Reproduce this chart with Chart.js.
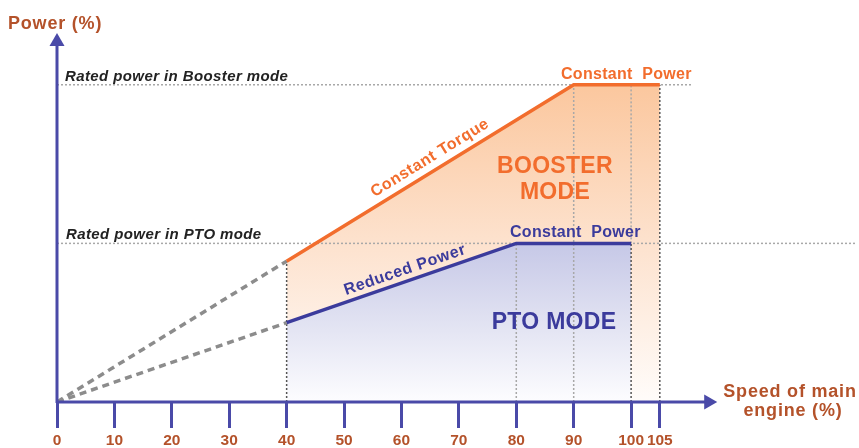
<!DOCTYPE html>
<html>
<head>
<meta charset="utf-8">
<script src="https://cdn.jsdelivr.net/npm/chart.js@4.4.1/dist/chart.umd.min.js"></script>
<style>
  html, body { margin: 0; padding: 0; background: #fff; }
  #wrap { width: 859px; height: 448px; }
</style>
</head>
<body>
<div id="wrap"><canvas id="chart"></canvas></div>
<script>
// --- data (speed of main engine %, power %) ---
const SPEED_TICKS   = [0, 10, 20, 30, 40, 50, 60, 70, 80, 90, 100, 105];
const BOOSTER_SPEED = [40, 90, 105];
const BOOSTER_POWER = [44.4, 100, 100];
const PTO_SPEED     = [40, 80, 100];
const PTO_POWER     = [25, 50, 50];
const RATED_BOOSTER = 100;
const RATED_PTO     = 50;
const BOOSTER_RULE_END = 110.5;
const PTO_RULE_END     = 139;
// vertical guides: [speed, from power, to power]
const DARK_GUIDES  = [[40, 0, 44.4], [100, 0, 50], [105, 0, 100]];
const LIGHT_GUIDES = [[80, 0, 50], [90, 0, 100], [100, 50, 100]];

const X_MAX = 139, Y_MAX = 116, X_ARROW = 115;

const FONT   = "'Liberation Sans', Arial, sans-serif";
const ORANGE = '#f26d2d';
const BLUE   = '#3b3b9c';
const AXIS   = '#4a4aa8';
const BROWN  = '#b4522a';

const pts = (xs, ys) => xs.map((x, i) => ({ x, y: ys[i] }));

function gradient(ctx, top, stops) {
  const { chart } = ctx;
  const area = chart.chartArea;
  if (!area) return null;
  const y0 = chart.scales.y.getPixelForValue(top);
  const g = chart.ctx.createLinearGradient(0, y0, 0, area.bottom);
  stops.forEach(([o, c]) => g.addColorStop(o, c));
  return g;
}

function guide(g, color) {
  return {
    data: [{ x: g[0], y: g[1] }, { x: g[0], y: g[2] }],
    borderColor: color, borderWidth: 1.5, borderDash: [2, 2],
    pointRadius: 0, fill: false,
  };
}

const datasets = [
  {
    label: 'PTO',
    data: pts(PTO_SPEED, PTO_POWER),
    borderColor: BLUE, borderWidth: 3.5, pointRadius: 0,
    fill: 'origin',
    backgroundColor: ctx => gradient(ctx, RATED_PTO, [
      [0, 'rgb(198,200,231)'], [0.55, 'rgb(228,229,243)'], [1, 'rgb(253,253,255)'],
    ]),
  },
  {
    label: 'Booster',
    data: pts(BOOSTER_SPEED, BOOSTER_POWER),
    borderColor: ORANGE, borderWidth: 3.5, pointRadius: 0,
    fill: 'origin',
    backgroundColor: ctx => gradient(ctx, RATED_BOOSTER, [
      [0, 'rgb(251,199,158)'], [0.5, 'rgb(253,226,206)'], [1, 'rgb(255,252,250)'],
    ]),
  },
  {
    data: [{ x: 0, y: 0 }, { x: BOOSTER_SPEED[0], y: BOOSTER_POWER[0] }],
    borderColor: '#8c8c8c', borderWidth: 3.5, borderDash: [7, 5], pointRadius: 0, fill: false,
  },
  {
    data: [{ x: 0, y: 0 }, { x: PTO_SPEED[0], y: PTO_POWER[0] }],
    borderColor: '#8c8c8c', borderWidth: 3.5, borderDash: [7, 5], pointRadius: 0, fill: false,
  },
  ...DARK_GUIDES.map(g => guide(g, '#555555')),
  ...LIGHT_GUIDES.map(g => guide(g, '#a8a8a8')),
  {
    data: [{ x: 0, y: RATED_BOOSTER }, { x: BOOSTER_RULE_END, y: RATED_BOOSTER }],
    borderColor: '#a8a8a8', borderWidth: 1.5, borderDash: [2, 2], pointRadius: 0, fill: false,
  },
  {
    data: [{ x: 0, y: RATED_PTO }, { x: PTO_RULE_END, y: RATED_PTO }],
    borderColor: '#a8a8a8', borderWidth: 1.5, borderDash: [2, 2], pointRadius: 0, fill: false,
  },
];

// axes with arrows + annotation texts
const decorPlugin = {
  id: 'decor',
  afterDatasetsDraw(chart) {
    const { ctx, scales: { x, y } } = chart;
    const x0 = x.getPixelForValue(0), y0 = y.getPixelForValue(0);
    const xTip = x.getPixelForValue(X_ARROW), yTip = y.getPixelForValue(Y_MAX) - 1;

    ctx.save();
    ctx.strokeStyle = AXIS;
    ctx.fillStyle   = AXIS;
    ctx.lineWidth   = 3;
    ctx.beginPath();
    ctx.moveTo(x0, y0); ctx.lineTo(xTip - 10, y0);
    ctx.moveTo(x0, y0 + 1); ctx.lineTo(x0, yTip + 10);
    ctx.stroke();
    ctx.beginPath();
    ctx.moveTo(xTip, y0); ctx.lineTo(xTip - 13, y0 - 7.5); ctx.lineTo(xTip - 13, y0 + 7.5);
    ctx.closePath(); ctx.fill();
    ctx.beginPath();
    ctx.moveTo(x0, yTip); ctx.lineTo(x0 - 7.5, yTip + 13); ctx.lineTo(x0 + 7.5, yTip + 13);
    ctx.closePath(); ctx.fill();

    const text = (s, px, py, font, color, align, spacing) => {
      ctx.font = font;
      ctx.fillStyle = color;
      ctx.textAlign = align || 'left';
      ctx.textBaseline = 'alphabetic';
      ctx.letterSpacing = (spacing || 0) + 'px';
      ctx.fillText(s, px, py);
    };

    text('Power (%)', 8, 29, `bold 18px ${FONT}`, BROWN, 'left', 0.8);
    text('Speed of main', 790, 397, `bold 18px ${FONT}`, BROWN, 'center', 0.8);
    text('engine (%)', 793, 416, `bold 18px ${FONT}`, BROWN, 'center', 0.8);

    text('Rated power in Booster mode', 65, 81, `italic bold 15px ${FONT}`, '#222', 'left', 0.4);
    text('Rated power in PTO mode', 66, 239, `italic bold 15px ${FONT}`, '#222', 'left', 0.4);

    text('Constant  Power', 561, 79, `bold 16px ${FONT}`, ORANGE, 'left', 0.3);
    text('Constant  Power', 510, 237, `bold 16px ${FONT}`, BLUE, 'left', 0.3);

    text('BOOSTER', 555, 173, `bold 23px ${FONT}`, ORANGE, 'center', 0.3);
    text('MODE', 555, 199, `bold 23px ${FONT}`, ORANGE, 'center', 0.3);
    text('PTO MODE', 554, 329, `bold 23px ${FONT}`, BLUE, 'center', 0.3);

    const along = (s, sx, sy, i, cx, cy, font, color) => {
      const ax = x.getPixelForValue(sx[i]), ay = y.getPixelForValue(sy[i]);
      const bx = x.getPixelForValue(sx[i + 1]), by = y.getPixelForValue(sy[i + 1]);
      ctx.save();
      ctx.translate(cx, cy);
      ctx.rotate(Math.atan2(by - ay, bx - ax));
      ctx.font = font;
      ctx.fillStyle = color;
      ctx.textAlign = 'center';
      ctx.textBaseline = 'middle';
      ctx.letterSpacing = '0.6px';
      ctx.fillText(s, 0, 0);
      ctx.restore();
    };
    along('Constant Torque', BOOSTER_SPEED, BOOSTER_POWER, 0, 430, 158, `bold 16px ${FONT}`, ORANGE);
    along('Reduced Power', PTO_SPEED, PTO_POWER, 0, 405, 270, `bold 16px ${FONT}`, BLUE);
    ctx.restore();
  },
};

new Chart(document.getElementById('chart'), {
  type: 'line',
  data: { datasets },
  options: {
    responsive: true,
    maintainAspectRatio: false,
    animation: false,
    layout: { padding: { left: 57, right: 4, top: 34, bottom: 0 } },
    plugins: {
      legend: { display: false },
      tooltip: { enabled: false },
      filler: { drawTime: 'beforeDatasetsDraw' },
    },
    scales: {
      x: {
        type: 'linear', min: 0, max: X_MAX,
        afterBuildTicks: s => { s.ticks = SPEED_TICKS.map(v => ({ value: v })); },
        afterFit: s => { s.height = 46; },
        border: { display: false },
        grid: { drawOnChartArea: false, drawTicks: true, tickLength: 26, color: AXIS, lineWidth: 3 },
        ticks: {
          autoSkip: false, maxRotation: 0, padding: 3,
          color: BROWN, font: { family: FONT, size: 15.5, weight: 'bold' },
        },
      },
      y: { type: 'linear', min: 0, max: Y_MAX, display: false },
    },
  },
  plugins: [decorPlugin],
});
</script>
</body>
</html>
